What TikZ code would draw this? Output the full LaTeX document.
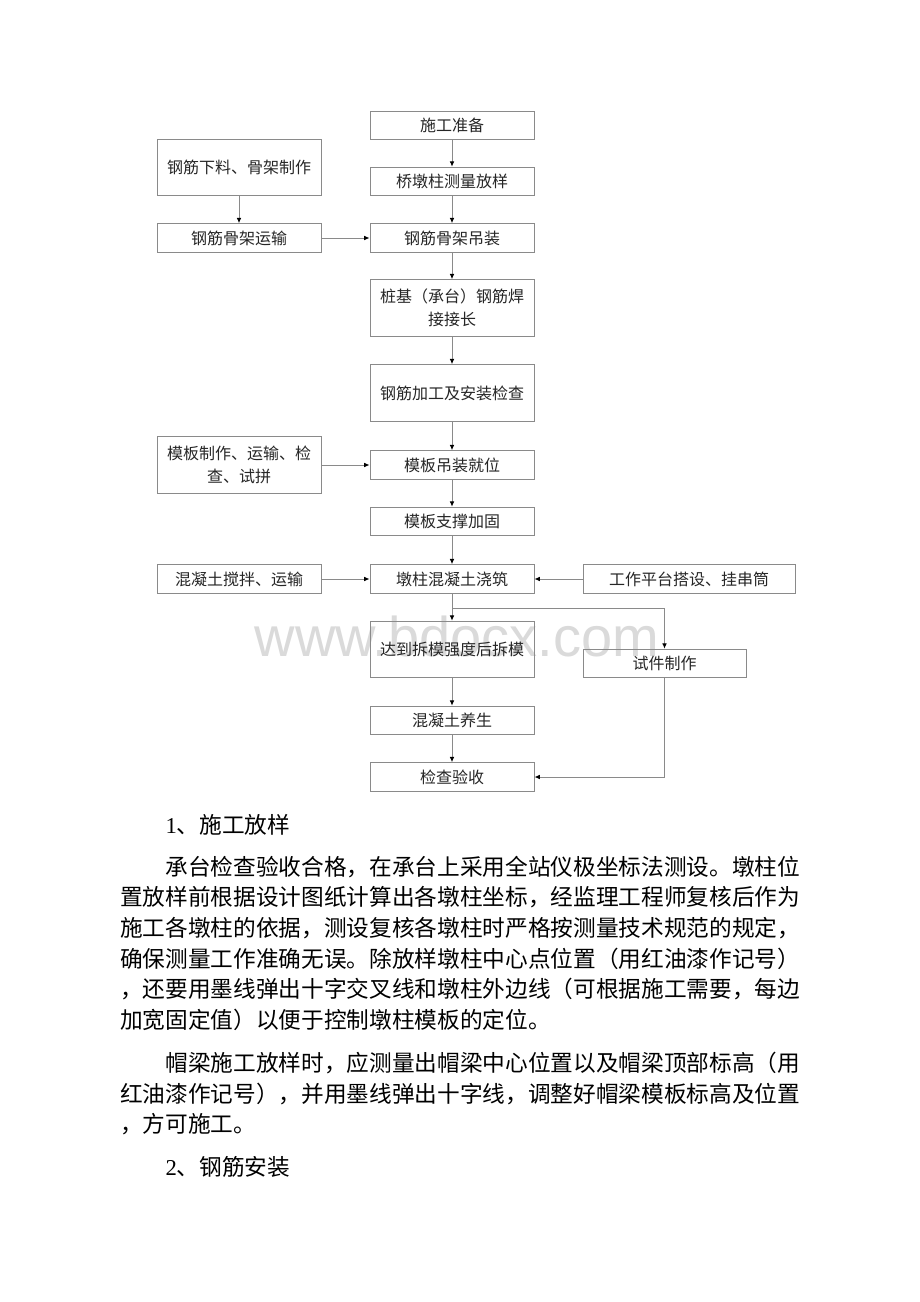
\documentclass[tikz,border=0pt]{standalone}
\usepackage{fontspec}
\setmainfont{Liberation Serif}
\newfontfamily\cjk{Noto Sans CJK SC}
\newfontfamily\wmfont{Liberation Sans}
\usetikzlibrary{arrows.meta}
\definecolor{boxgray}{HTML}{8A8A8A}
\definecolor{linegray}{HTML}{8A8A8A}
\definecolor{wmgray}{HTML}{DADADA}
\begin{document}
\begin{tikzpicture}[x=0.75pt,y=-0.75pt,
  box/.style={draw=boxgray,line width=0.7pt,inner sep=0pt,align=center,
    font=\cjk\fontsize{12pt}{17pt}\selectfont,text=black!85},
  hs/.style={minimum height=21.5pt},
  ht/.style={minimum height=42.5pt},
  wm/.style={minimum width=123pt},
  arr/.style={draw=linegray,line width=0.7pt,-{Latex[length=4pt,width=3.5pt,color=black]}},
  ln/.style={draw=linegray,line width=0.7pt},
  para/.style={anchor=west,inner sep=0pt,font=\cjk\fontsize{17pt}{20pt}\selectfont,text=black}
]
\fill[white] (0,0) rectangle (920,1302);
\useasboundingbox (0,0) rectangle (920,1302);
% watermark
\node[text=wmgray,font=\wmfont\fontsize{42pt}{42pt}\selectfont,inner sep=0pt] (wmk) at (457,636) {www.bdocx.com};
% main column
\node[box,wm,hs] (a) at (452,125.5) {施工准备};
\node[box,wm,hs] (b) at (452,181.5) {桥墩柱测量放样};
\node[box,wm,hs] (c) at (452,238) {钢筋骨架吊装};
\node[box,wm,ht] (d) at (452,308) {桩基（承台）钢筋焊\\接接长};
\node[box,wm,ht] (e) at (452,393) {钢筋加工及安装检查};
\node[box,wm,hs] (f) at (452,465) {模板吊装就位};
\node[box,wm,hs] (g) at (452,521.5) {模板支撑加固};
\node[box,wm,hs] (h) at (452,579) {墩柱混凝土浇筑};
\node[box,wm,ht] (i) at (452,649.5) {达到拆模强度后拆模};
\node[box,wm,hs] (j) at (452,720.5) {混凝土养生};
\node[box,wm,hs] (k) at (452,777) {检查验收};
% left column
\node[box,wm,ht] (l1) at (239,167.5) {钢筋下料、骨架制作};
\node[box,wm,hs] (l2) at (239,238) {钢筋骨架运输};
\node[box,wm,ht] (l3) at (239,465) {模板制作、运输、检\\查、试拼};
\node[box,wm,hs] (l4) at (239,579) {混凝土搅拌、运输};
% right column
\node[box,hs,minimum width=159pt] (r1) at (689,579) {工作平台搭设、挂串筒};
\node[box,hs,minimum width=122.25pt] (r2) at (664.5,663.5) {试件制作};
% connectors
\draw[arr] (a) -- (b);
\draw[arr] (b) -- (c);
\draw[arr] (c) -- (d);
\draw[arr] (d) -- (e);
\draw[arr] (e) -- (f);
\draw[arr] (f) -- (g);
\draw[arr] (g) -- (h);
\draw[arr] (h) -- (i);
\draw[arr] (i) -- (j);
\draw[arr] (j) -- (k);
\draw[arr] (l1) -- (l2);
\draw[arr] (l2) -- (c);
\draw[arr] (l3.east) -- (f.west);
\draw[arr] (l4) -- (h);
\draw[arr] (r1) -- (h);
\coordinate (br) at (452,608);
\draw[arr] (br) -| (r2.north);
\draw[arr] (r2.south) |- (k.east);
% text
\node[para] (t1) at (120,825) {　　{\rmfamily 1}、施工放样};
\node[para] (p1) at (120,867) {　　承台检查验收合格，在承台上采用全站仪极坐标法测设。墩柱位};
\node[para] (p2) at (120,897.5) {置放样前根据设计图纸计算出各墩柱坐标，经监理工程师复核后作为};
\node[para] (p3) at (120,928) {施工各墩柱的依据，测设复核各墩柱时严格按测量技术规范的规定，};
\node[para] (p4) at (120,958.5) {确保测量工作准确无误。除放样墩柱中心点位置（用红油漆作记号）};
\node[para] (p5) at (120,989) {，还要用墨线弹出十字交叉线和墩柱外边线（可根据施工需要，每边};
\node[para] (p6) at (120,1019.5) {加宽固定值）以便于控制墩柱模板的定位。};
\node[para] (q1) at (120,1063) {　　帽梁施工放样时，应测量出帽梁中心位置以及帽梁顶部标高（用};
\node[para] (q2) at (120,1093.5) {红油漆作记号），并用墨线弹出十字线，调整好帽梁模板标高及位置};
\node[para] (q3) at (120,1124) {，方可施工。};
\node[para] (t2) at (120,1167) {　　{\rmfamily 2}、钢筋安装};
\end{tikzpicture}
\end{document}
